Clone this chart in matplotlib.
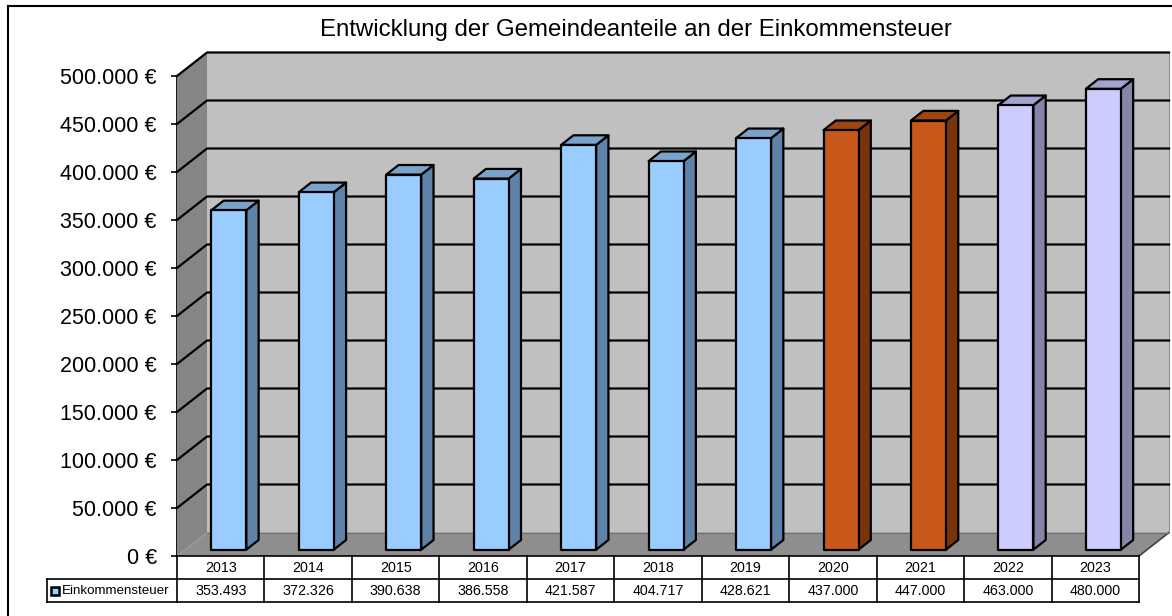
import matplotlib
matplotlib.use("Agg")
import matplotlib.pyplot as plt
from matplotlib.patches import Polygon, Rectangle
from matplotlib.lines import Line2D
import numpy as np

# ---------------- data ----------------
years = ["2013", "2014", "2015", "2016", "2017", "2018", "2019", "2020", "2021", "2022", "2023"]
values = [353493, 372326, 390638, 386558, 421587, 404717, 428621, 437000, 447000, 463000, 480000]
value_labels = ["353.493", "372.326", "390.638", "386.558", "421.587", "404.717", "428.621",
                "437.000", "447.000", "463.000", "480.000"]
series_name = "Einkommensteuer"
title = "Entwicklung der Gemeindeanteile an der Einkommensteuer"
y_ticks = [0, 50000, 100000, 150000, 200000, 250000, 300000, 350000, 400000, 450000, 500000]
y_tick_labels = ["0 €", "50.000 €", "100.000 €", "150.000 €", "200.000 €", "250.000 €",
                 "300.000 €", "350.000 €", "400.000 €", "450.000 €", "500.000 €"]
bar_groups = ["ist"] * 7 + ["plan"] * 2 + ["prog"] * 2

# ---------------- style ----------------
W, H = 1172, 616
DPI = 100
plt.rcParams['font.family'] = ['Liberation Sans', 'DejaVu Sans']

colors = {
    "ist": ("#99CCFF", "#7AA3CC", "#5F82A8"),
    "plan": ("#C8581A", "#9E4512", "#7A340C"),
    "prog": ("#CCCCFF", "#A3A3D0", "#8585A8"),
}
DX, DY = 30.0, 23.5  # depth offset in pixels

fig = plt.figure(figsize=(W / DPI, H / DPI), dpi=DPI)
fig.patch.set_facecolor("white")

x_left, x_right = 177, 1139
y_top, y_bot = 76, 556
ax = fig.add_axes([x_left / W, 1 - y_bot / H, (x_right - x_left) / W, (y_bot - y_top) / H])
ax.set_xlim(-0.5, len(years) - 0.5)
ax.set_ylim(0, 500000)
ax.patch.set_visible(False)
for s in ["top", "right", "bottom"]:
    ax.spines[s].set_visible(False)
ax.spines["left"].set_linewidth(1.3)
ax.spines["left"].set_zorder(6)
ax.set_xticks([])
ax.set_yticks(y_ticks)
ax.set_yticklabels(y_tick_labels, fontsize=15.5)
ax.tick_params(axis="y", length=4.5, width=1.2, pad=10, direction="out")

fig.canvas.draw()


def P(x, v, d):
    px, py = ax.transData.transform((x, v))
    return (px + DX * d, py + DY * d)


def poly(pts, fc, ec="black", lw=1.6, z=2):
    p = Polygon(pts, closed=True, facecolor=fc, edgecolor=ec, linewidth=lw,
                transform=None, zorder=z, joinstyle="round")
    fig.add_artist(p)
    return p


def line(pts, color="black", lw=1.3, z=3):
    xs, ys = zip(*pts)
    l = Line2D(xs, ys, color=color, linewidth=lw, transform=None, zorder=z)
    fig.add_artist(l)


x0, x1 = -0.5, len(years) - 0.5
vmax = 500000

# back wall
poly([P(x0, 0, 1), P(x1, 0, 1), P(x1, vmax, 1), P(x0, vmax, 1)], "#C0C0C0", ec="none", z=1)
# left wall
poly([P(x0, 0, 0), P(x0, 0, 1), P(x0, vmax, 1), P(x0, vmax, 0)], "#858585", ec="none", z=1)
# floor
poly([P(x0, 0, 0), P(x1, 0, 0), P(x1, 0, 1), P(x0, 0, 1)], "#8E8E8E", ec="none", z=1)
line([P(x1, 0, 0), P(x1, 0, 1)], color="#404040", lw=1.2, z=1.5)
line([P(x0, 0, 1), P(x1, 0, 1)], color="#707070", lw=0.8, z=1.5)
line([P(x1, 0, 1), P(x1, vmax, 1)], color="#909090", lw=0.8, z=1.5)

# grid lines on back wall + diagonals on left wall
for v in y_ticks[1:]:
    line([P(x0, v, 0), P(x0, v, 1), P(x1, v, 1)], color="black", lw=1.6, z=1.6)

# bars
half_w = 0.2
d0, d1 = 0.27, 0.68
for i, (val, grp) in enumerate(zip(values, bar_groups)):
    front, top, side = colors[grp]
    xl, xr = i - half_w, i + half_w
    poly([P(xr, 0, d0), P(xr, 0, d1), P(xr, val, d1), P(xr, val, d0)], side, z=3)
    poly([P(xl, val, d0), P(xr, val, d0), P(xr, val, d1), P(xl, val, d1)], top, z=3)
    poly([P(xl, 0, d0), P(xr, 0, d0), P(xr, val, d0), P(xl, val, d0)], front, z=4)

# ---------------- data table ----------------
def fx(x):
    return x / W


def fy(y):
    return 1 - y / H


row1_top, row1_bot, row2_bot = 556, 579, 602
label_left = 47
col_edges = [ax.transData.transform((i - 0.5, 0))[0] for i in range(len(years) + 1)]
tlw = 1.2
fig.add_artist(Line2D([fx(col_edges[0]), fx(col_edges[-1])], [fy(row1_top)] * 2, color="black", lw=tlw))
fig.add_artist(Line2D([fx(label_left), fx(col_edges[-1])], [fy(row1_bot)] * 2, color="black", lw=tlw))
fig.add_artist(Line2D([fx(label_left), fx(col_edges[-1])], [fy(row2_bot)] * 2, color="black", lw=tlw))
for xe in col_edges:
    fig.add_artist(Line2D([fx(xe)] * 2, [fy(row1_top), fy(row2_bot)], color="black", lw=tlw))
fig.add_artist(Line2D([fx(label_left)] * 2, [fy(row1_bot), fy(row2_bot)], color="black", lw=tlw))

tfs = 10.3
for i, (yr, vl) in enumerate(zip(years, value_labels)):
    cx = (col_edges[i] + col_edges[i + 1]) / 2
    fig.text(fx(cx), fy((row1_top + row1_bot) / 2 + 0.5), yr, ha="center", va="center", fontsize=tfs)
    fig.text(fx(cx), fy((row1_bot + row2_bot) / 2 + 0.5), vl, ha="center", va="center", fontsize=tfs)

fig.add_artist(Rectangle((fx(51), fy(595)), 8 / W, 8 / H, facecolor=colors["ist"][0],
                         edgecolor="black", linewidth=1.8, transform=fig.transFigure))
fig.text(fx(62), fy((row1_bot + row2_bot) / 2 + 0.5), series_name, ha="left", va="center", fontsize=9.6)

# ---------------- title + outer frame ----------------
fig.text(fx(636), fy(30), title, ha="center", va="center", fontsize=17.3)
fig.add_artist(Line2D([fx(8), fx(8)], [fy(6), 0], color="black", lw=1.5))
fig.add_artist(Line2D([fx(8), 1], [fy(6), fy(6)], color="black", lw=1.5))

fig.savefig("out.png", dpi=DPI, facecolor="white")
